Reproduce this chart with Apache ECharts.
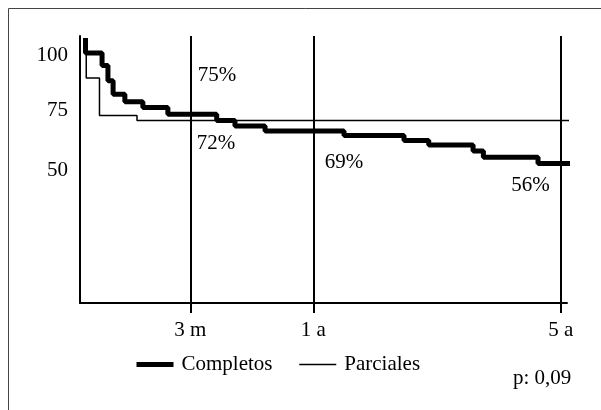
<!DOCTYPE html>
<html><head><meta charset="utf-8">
<script src="https://cdn.jsdelivr.net/npm/echarts@6/dist/echarts.min.js"></script>
<style>html,body{margin:0;padding:0;background:#fff}#c{width:601px;height:410px}</style>
</head><body><div id="c"></div>
<script>
// ---- data (time in months, survival in %) ----
const completosMeses   = [0.15, 0.15, 0.60, 0.76, 0.90, 1.22, 1.71, 2.39, 4.93, 6.27, 8.47, 17.96, 29.6, 34.4, 43.0, 45.0, 55.6, 65.1];
const completosValores = [106, 100, 95, 88.9, 83.5, 80.5, 78.2, 75.5, 73, 70.8, 68.8, 67, 65, 63.2, 60.8, 58.3, 55.8, 55.8];
const parcialesMeses   = [0.17, 0.17, 0.53, 1.55, 65.1];
const parcialesValores = [100, 90, 75, 73, 73];
const tickMeses     = [3, 12, 60];
const tickEtiquetas = ['3 m', '1 a', '5 a'];
const yEtiquetas    = [100, 75, 50];
const anotMeses   = [3, 3, 12, 60];
const anotValores = [75, 72, 69, 56];
const anotTextos  = ['75%', '72%', '69%', '56%'];
const pTexto = 'p: 0,09';

// the time axis is not uniform: piecewise scale between the labelled ticks
const anclaMeses = [0, 3, 12, 60];
const anclaEje   = [0, 110.3, 233.3, 480.7];
function eje(m) {
  let i = 0;
  while (i < anclaMeses.length - 2 && m > anclaMeses[i + 1]) i++;
  const m0 = anclaMeses[i], m1 = anclaMeses[i + 1], e0 = anclaEje[i], e1 = anclaEje[i + 1];
  return e0 + (m - m0) * (e1 - e0) / (m1 - m0);
}

const FONT = "'Liberation Serif','Times New Roman',serif";
const chart = echarts.init(document.getElementById('c'), null, {renderer: 'canvas'});

const completosData = completosMeses.map((m, i) => [eje(m), completosValores[i]]);
const parcialesData = parcialesMeses.map((m, i) => [eje(m), parcialesValores[i]]);
const tickPos = tickMeses.map(eje);

const offs = [[8, -40, 'left'], [7, 20.5, 'left'], [12, 32, 'left'], [-10.5, 22.5, 'right']];
const anotData = anotMeses.map((m, i) => ({
  value: [eje(m), anotValores[i]],
  label: {show: true, formatter: anotTextos[i], position: [offs[i][0], offs[i][1]],
          align: offs[i][2], verticalAlign: 'middle', fontSize: 21, fontFamily: FONT,
          color: '#000', opacity: 1, textBorderWidth: 0, textBorderColor: 'transparent', textShadowBlur: 0}
}));

chart.setOption({
  animation: false,
  graphic: [{type: 'rect', shape: {x: 8.5, y: 8.5, width: 800, height: 600}, style: {fill: 'none', stroke: '#444', lineWidth: 1}, silent: true, z: -10}],
  grid: {left: 80, top: 36, right: 34, bottom: 107},
  title: {text: pTexto, left: 513, top: 368, padding: 0,
          textStyle: {fontSize: 21, fontWeight: 'normal', fontFamily: FONT, color: '#000'}},
  legend: {left: 134, top: 354, padding: 0, itemWidth: 37, itemHeight: 20, itemGap: 26, selectedMode: false,
           data: ['Completos', 'Parciales'], lineStyle: {width: 'inherit'},
           itemStyle: {color: 'rgba(0,0,0,0)', borderWidth: 0, opacity: 0},
           textStyle: {fontSize: 21, fontFamily: FONT, color: '#000', padding: [0, 0, 0, 3]}},
  xAxis: {type: 'value', min: 0, max: 487,
          axisLine: {show: true, onZero: false, lineStyle: {color: '#000', width: 2}},
          axisTick: {show: true, customValues: tickPos, length: 10, lineStyle: {color: '#000', width: 2}},
          splitLine: {show: false},
          axisLabel: {customValues: tickPos, margin: 17, fontSize: 21, fontFamily: FONT, color: '#000',
                      formatter: v => { const i = tickPos.findIndex(t => Math.abs(t - v) < 1e-6); return i >= 0 ? tickEtiquetas[i] : ''; }}},
  yAxis: {type: 'value', min: 0, max: 106.8,
          axisLine: {show: true, onZero: false, lineStyle: {color: '#000', width: 2}},
          axisTick: {show: false}, splitLine: {show: false},
          axisLabel: {customValues: yEtiquetas, margin: 12, fontSize: 21, fontFamily: FONT, color: '#000',
                      formatter: v => v === 100 ? '{a|' + v + '}' : (v === 75 ? '{b|' + v + '}' : '{c|' + v + '}'),
                      rich: {a: {fontSize: 21, fontFamily: FONT, color: '#000', padding: [5, 0, 0, 0]},
                             b: {fontSize: 21, fontFamily: FONT, color: '#000', padding: [0, 0, 10, 0]},
                             c: {fontSize: 21, fontFamily: FONT, color: '#000', padding: [0, 0, 15, 0]}}}},
  series: [
    {name: 'Parciales', type: 'line', step: 'end', data: parcialesData, symbol: 'none', clip: false,
     lineStyle: {color: '#000', width: 1.5}, itemStyle: {color: '#000'}, z: 3,
     markLine: {silent: true, symbol: ['none', 'none'], label: {show: false},
                lineStyle: {color: '#000', width: 2, type: 'solid'},
                data: tickPos.map(p => ({xAxis: p}))}},
    {name: 'Completos', type: 'line', step: 'end', data: completosData, symbol: 'none', clip: false,
     lineStyle: {color: '#000', width: 5}, itemStyle: {color: '#000'}, z: 4},
    {name: 'anotaciones', type: 'scatter', data: anotData, symbolSize: 1, silent: true, z: 5,
     itemStyle: {color: '#000', opacity: 0}}
  ]
});
</script></body></html>
